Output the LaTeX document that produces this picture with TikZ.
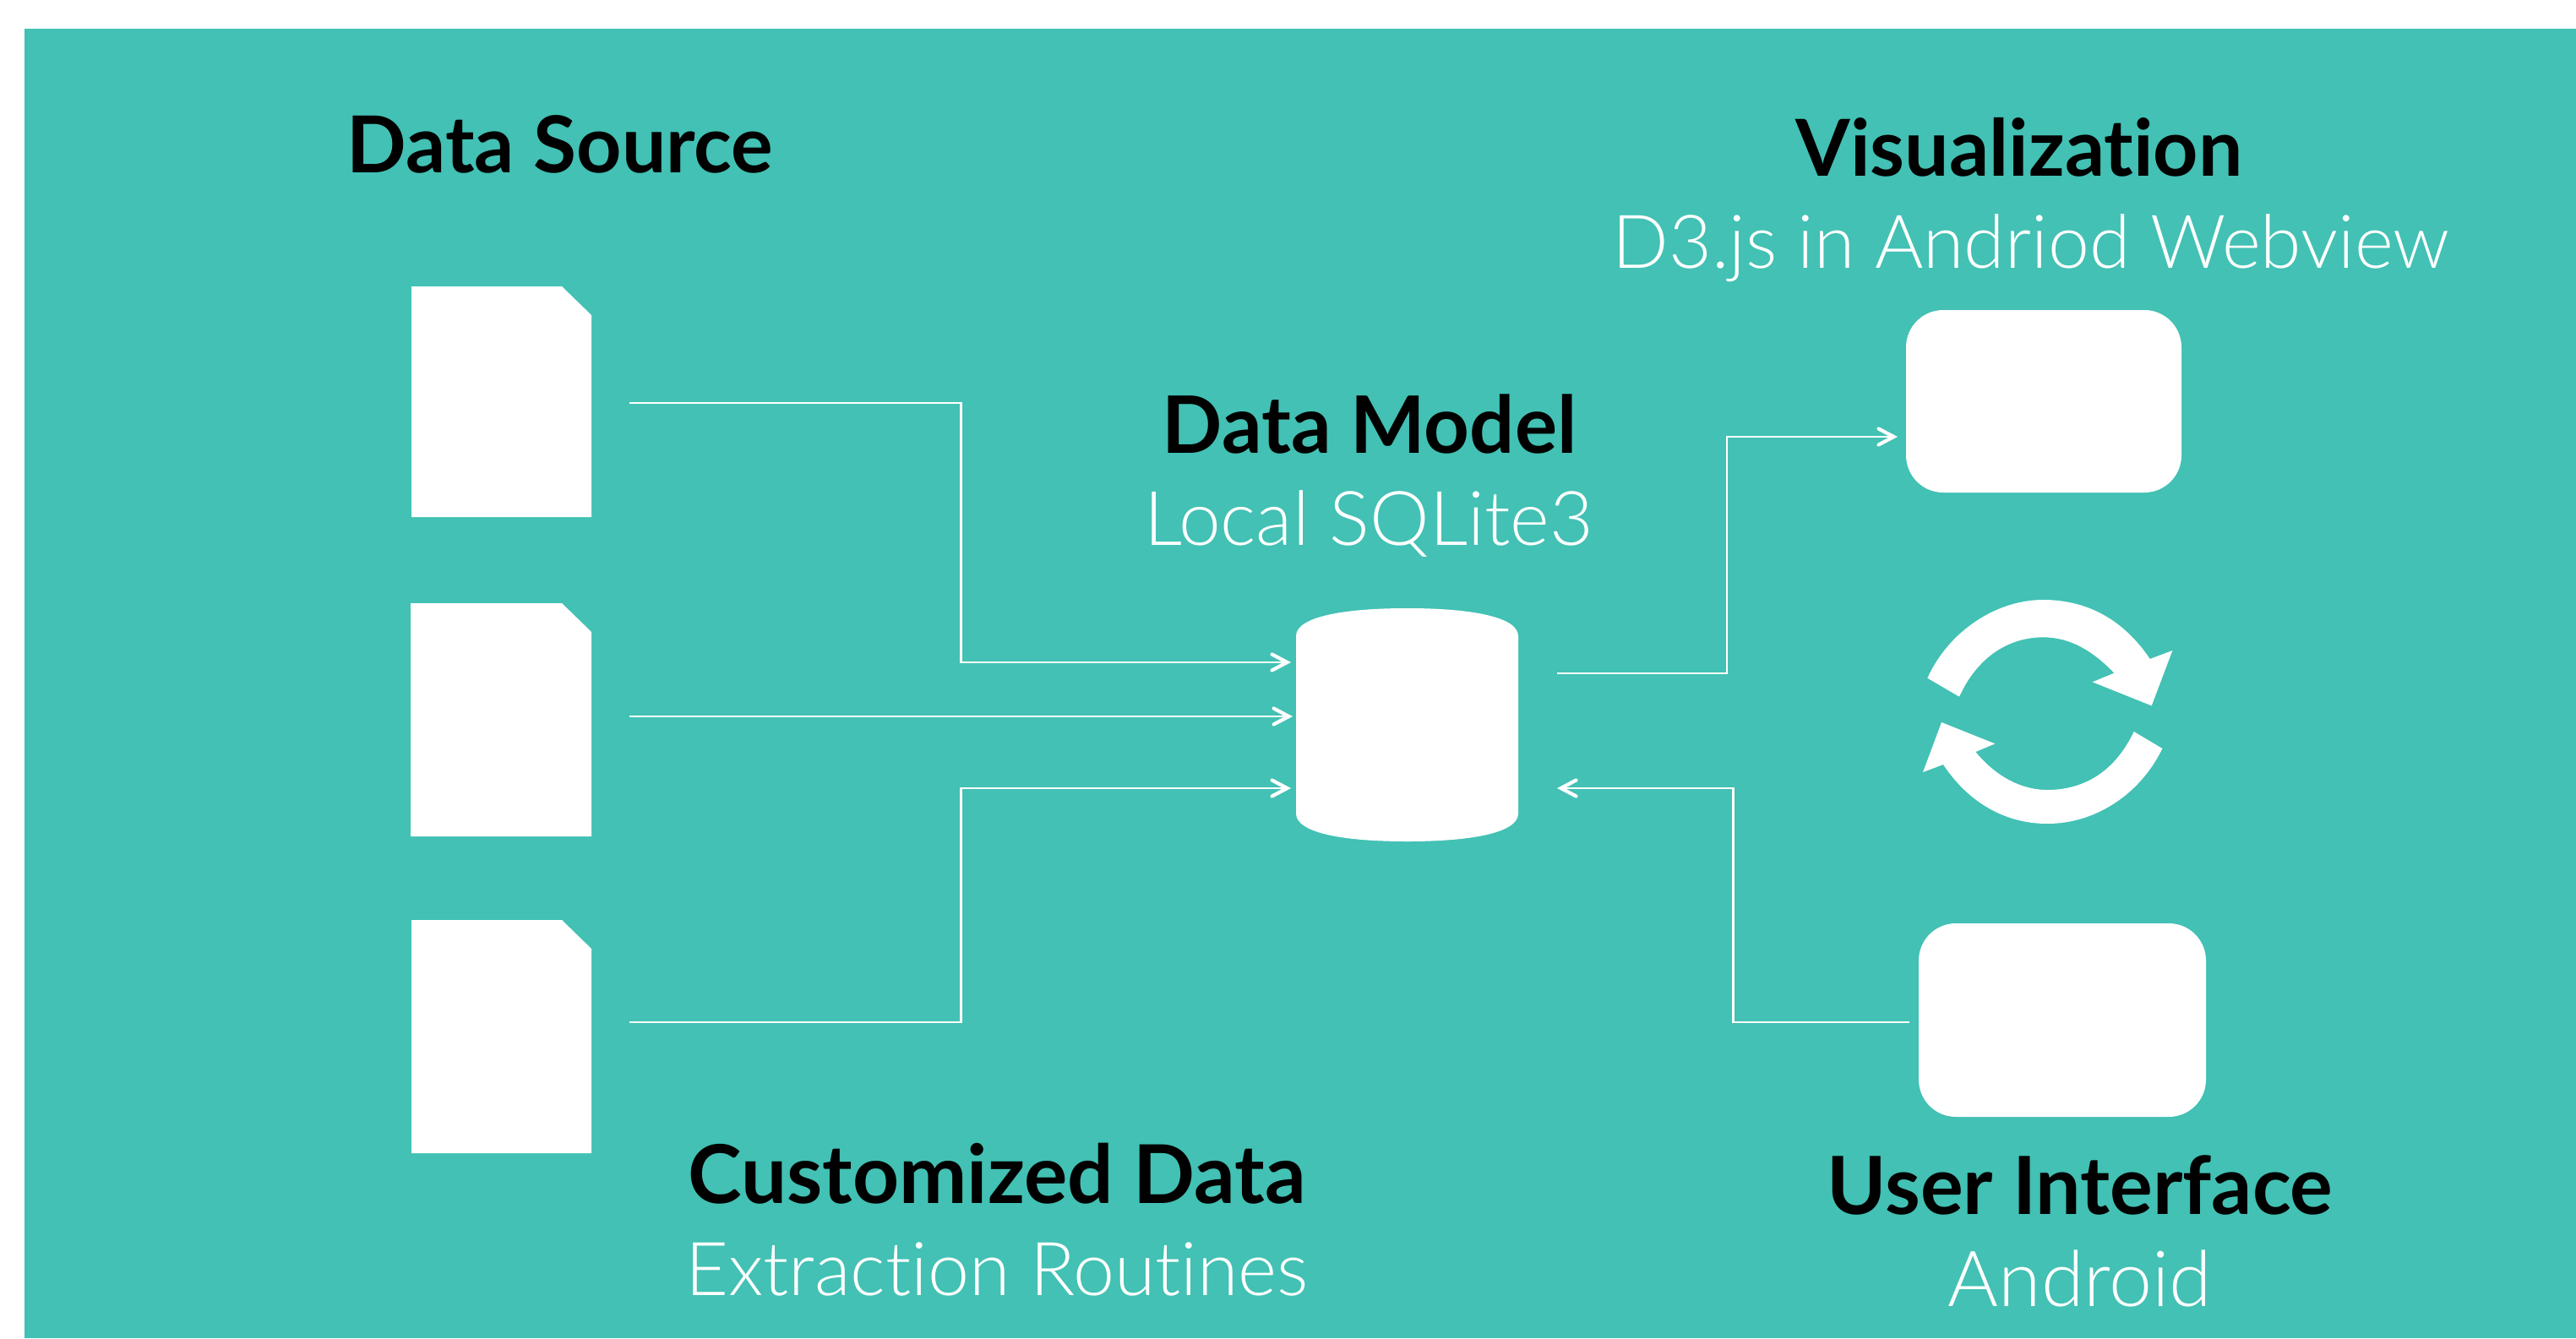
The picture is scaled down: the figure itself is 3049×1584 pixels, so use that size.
\documentclass[tikz,border=0pt]{standalone}
\usepackage{fontspec}
\setmainfont{Lato}[UprightFont=* Light,BoldFont=* Bold,Ligatures=NoCommon]
\usetikzlibrary{arrows.meta,calc}
\definecolor{teal0}{HTML}{42C1B4}
\tikzset{
  x=0.5pt,y=-0.5pt,
  sheet/.style={rectangle,inner sep=0pt,outer sep=0pt,minimum width=#1},
  sheet/.default=106.5pt,
  box/.style={rectangle,fill=white,rounded corners=22pt,inner sep=0pt,outer sep=0pt},
  conn/.style={draw=white,line width=1.35pt,line join=miter},
  tip/.style={-{Straight Barb[length=9pt,width=9.5pt,line width=2.1pt,line cap=round,color=white]}},
  head/.style={anchor=base,text=black,font=\fontsize{#1}{#1}\selectfont\bfseries,inner sep=0pt},
  sub/.style={anchor=base,text=white,font=\fontsize{#1}{#1}\selectfont,inner sep=0pt},
}
\begin{document}
\begin{tikzpicture}
\useasboundingbox (0,0) rectangle (3049,1584);
\fill[white] (0,0) rectangle (3049,1584);
\fill[teal0] (29,34) rectangle (3049,1584);

% documents
\node[sheet,minimum height=136.5pt] (doc1) at (593.5,475.5) {};
\node[sheet=107pt,minimum height=138pt] (doc2) at (593,852) {};
\node[sheet,minimum height=138pt] (doc3) at (593.5,1227) {};
\foreach \d in {doc1,doc2,doc3}{
  \fill[white] (\d.north west) -- ($(\d.north east)+(-35,0)$) -- ($(\d.north east)+(0,34)$) -- (\d.south east) -- (\d.south west) -- cycle;
}

% database
\node[rectangle,inner sep=0pt,outer sep=0pt,minimum width=131.5pt,minimum height=138pt] (db) at (1665.5,858) {};
\fill[white] ($(db.north west)+(0,33)$) .. controls ($(db.north west)+(0,10)$) and ($(db.north)+(-75,0)$) .. (db.north)
  .. controls ($(db.north)+(75,0)$) and ($(db.north east)+(0,10)$) .. ($(db.north east)+(0,33)$)
  -- ($(db.south east)+(0,-33)$) .. controls ($(db.south east)+(0,-10)$) and ($(db.south)+(75,0)$) .. (db.south)
  .. controls ($(db.south)+(-75,0)$) and ($(db.south west)+(0,-10)$) .. ($(db.south west)+(0,-33)$) -- cycle;

% boxes
\node[box,minimum width=163pt,minimum height=108pt] (vis) at (2419,475) {};
\node[box,minimum width=170pt,minimum height=114.5pt] (ui) at (2441,1207.5) {};

% connector ends
\coordinate (s1) at (745,477);
\coordinate (s2) at (745,848);
\coordinate (s3) at (745,1210);
\coordinate (d1) at (1528,784);
\coordinate (d2) at (1530,848);
\coordinate (d3) at (1528,933);
\coordinate (o1) at (1843,797);
\coordinate (i1) at (2246,517);
\coordinate (o2) at (2260,1210);
\coordinate (i2) at (1843,933);

\draw[conn,tip] (s1) -- (1137.5,477) -- (1137.5,784) -- (d1);
\draw[conn,tip] (s2) -- (d2);
\draw[conn,tip] (s3) -- (1137.5,1210) -- (1137.5,933) -- (d3);
\draw[conn,tip] (o1) -- (2044,797) -- (2044,517) -- (i1);
\draw[conn,tip] (o2) -- (2051.5,1210) -- (2051.5,933) -- (i2);

% cycle arrows
\begin{scope}[shift={(2150,650)},x=0.16667pt,y=-0.16667pt]
\fill[white] (394,458) .. controls (470,290) and (640,180) .. (805,180)
  .. controls (960,180) and (1090,250) .. (1184,390)
  -- (1264,360) -- (1190,556) -- (980,472) -- (1057,440)
  .. controls (980,360) and (900,313) .. (805,313)
  .. controls (680,313) and (570,385) .. (507,524) -- cycle;
\fill[white] (1228,708) .. controls (1150,870) and (990,975) .. (820,975)
  .. controls (670,975) and (540,900) .. (450,765)
  -- (378,792) -- (444,615) -- (634,691) -- (565,720)
  .. controls (630,800) and (720,855) .. (820,855)
  .. controls (950,855) and (1060,790) .. (1127,648) -- cycle;
\end{scope}

% labels
\node[head=46.5] (t1) at (663,204) {Data Source};
\node[head=46.5] (t2) at (2390,208) {Visualization};
\node[sub=43.9] (t3) at (2404,317) {D3.js in Andriod Webview};
\node[head=46.9] (t4) at (1621,536) {Data Model};
\node[sub=44.6] (t5) at (1620,645) {Local SQLite3};
\node[head=48] (t6) at (1180,1424) {Customized Data};
\node[sub=44] (t7) at (1180,1533) {Extraction Routines};
\node[head=47.5] (t8) at (2462,1437) {User Interface};
\node[sub=45.8] (t9) at (2462,1546) {Android};
\end{tikzpicture}
\end{document}
